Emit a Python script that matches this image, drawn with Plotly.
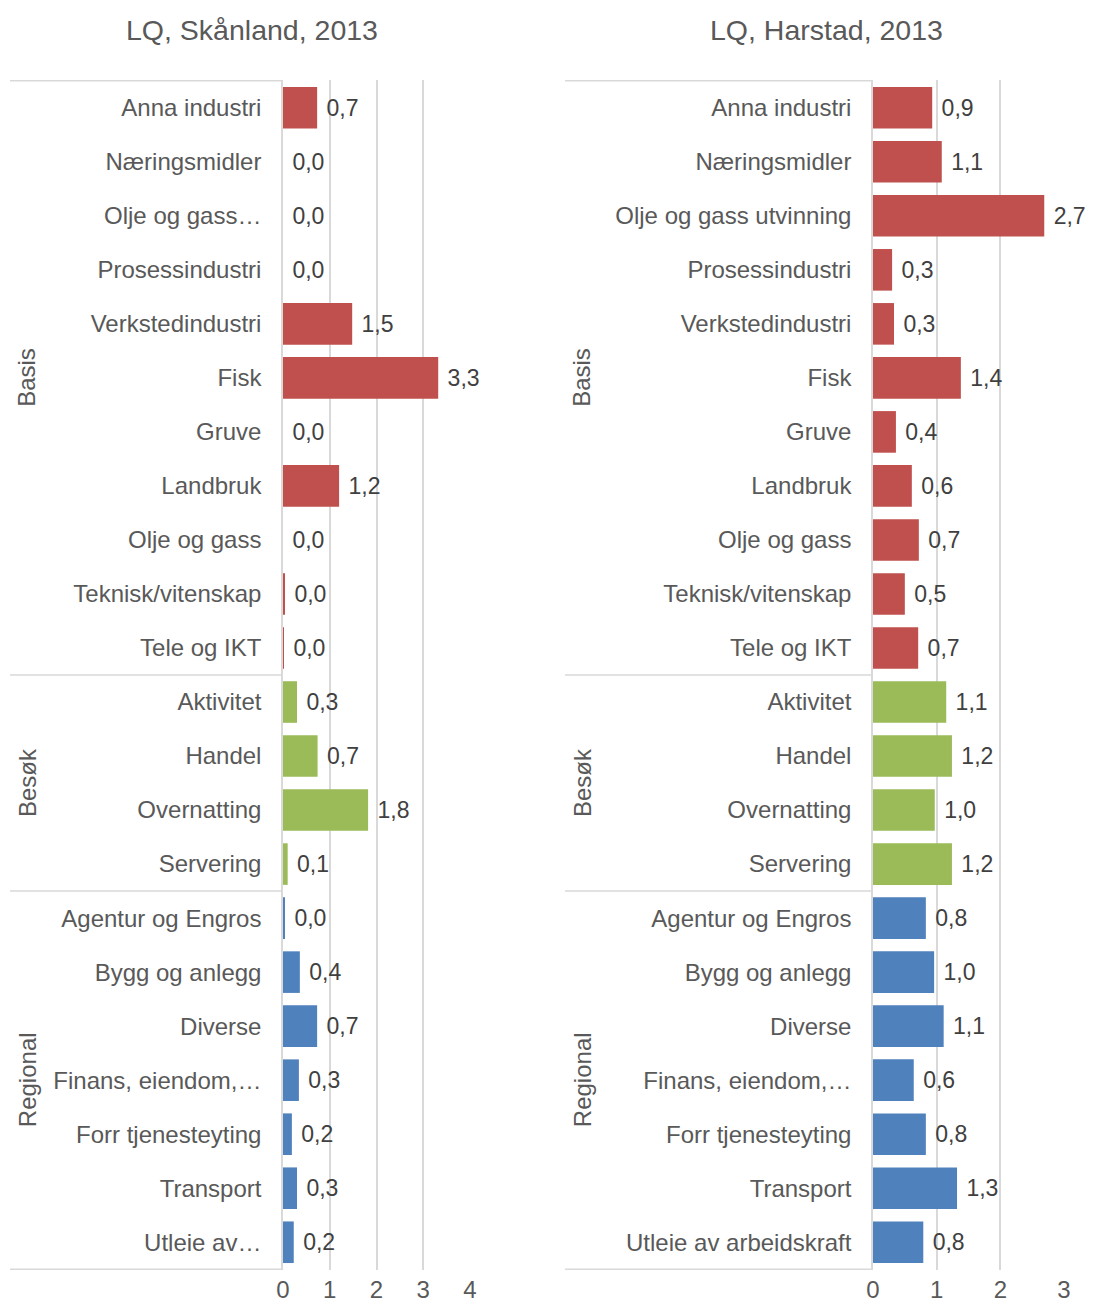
import plotly.graph_objects as go

# category labels (left panel truncates some long names, as in the original)
cats_skanland = ["Anna industri", "Næringsmidler", "Olje og gass…", "Prosessindustri",
                 "Verkstedindustri", "Fisk", "Gruve", "Landbruk", "Olje og gass",
                 "Teknisk/vitenskap", "Tele og IKT",
                 "Aktivitet", "Handel", "Overnatting", "Servering",
                 "Agentur og Engros", "Bygg og anlegg", "Diverse", "Finans, eiendom,…",
                 "Forr tjenesteyting", "Transport", "Utleie av…"]
cats_harstad = ["Anna industri", "Næringsmidler", "Olje og gass utvinning", "Prosessindustri",
                "Verkstedindustri", "Fisk", "Gruve", "Landbruk", "Olje og gass",
                "Teknisk/vitenskap", "Tele og IKT",
                "Aktivitet", "Handel", "Overnatting", "Servering",
                "Agentur og Engros", "Bygg og anlegg", "Diverse", "Finans, eiendom,…",
                "Forr tjenesteyting", "Transport", "Utleie av arbeidskraft"]

lq_skanland = [0.73, 0.0, 0.0, 0.0, 1.48, 3.32, 0.0, 1.2, 0.0, 0.03, 0.02,
               0.3, 0.74, 1.82, 0.1,
               0.04, 0.36, 0.73, 0.34, 0.19, 0.3, 0.23]
lq_harstad = [0.93, 1.08, 2.69, 0.3, 0.33, 1.38, 0.36, 0.61, 0.72, 0.5, 0.71,
              1.15, 1.24, 0.97, 1.24,
              0.83, 0.96, 1.11, 0.64, 0.83, 1.32, 0.79]

groups = ["Basis", "Besøk", "Regional"]
group_sizes = [11, 4, 7]
group_colors = {"Basis": "#C0504D", "Besøk": "#9BBB59", "Regional": "#4F81BD"}

titles = ["LQ, Skånland, 2013", "LQ, Harstad, 2013"]
x_ranges = [[0, 4], [0, 3]]

# the page body has an 8px margin all round; keep the page from scrolling
OFF = 8
W, H = 1093 - OFF, 1311 - 2 * OFF
FONT = "Liberation Sans, Arial, sans-serif"
GRID = "#d9d9d9"


def px(v):
    return v - OFF


fig = go.Figure()

panels = [
    dict(cats=cats_skanland, vals=lq_skanland, xdom=(283, 470), left=10, title_x=252),
    dict(cats=cats_harstad, vals=lq_harstad, xdom=(873, 1064), left=565, title_x=826),
]
y_top, y_bot = 80, 1270

for p_i, p in enumerate(panels):
    xa = "x" if p_i == 0 else "x2"
    ya = "y" if p_i == 0 else "y2"
    start = 0
    for g, n in zip(groups, group_sizes):
        fig.add_trace(go.Bar(
            x=p["vals"][start:start + n], y=p["cats"][start:start + n],
            orientation="h", marker=dict(color=group_colors[g], line=dict(width=0)),
            texttemplate=" %{x:.1f}", textposition="outside", cliponaxis=False,
            constraintext="none",
            textfont=dict(size=23, color="#404040", family=FONT),
            xaxis=xa, yaxis=ya, showlegend=False, hoverinfo="skip",
        ))
        start += n

    xk = "xaxis" if p_i == 0 else "xaxis2"
    yk = "yaxis" if p_i == 0 else "yaxis2"
    fig.update_layout({
        xk: dict(domain=[px(p["xdom"][0]) / W, px(p["xdom"][1]) / W], range=x_ranges[p_i],
                 anchor=ya, showgrid=True, gridcolor=GRID, gridwidth=1.5,
                 zeroline=False, showline=False, dtick=1, automargin=False,
                 ticks="", ticklabelstandoff=3,
                 tickfont=dict(size=24, color="#595959", family=FONT)),
        yk: dict(domain=[1 - px(y_bot) / H, 1 - px(y_top) / H], anchor=xa,
                 type="category", categoryorder="array", categoryarray=p["cats"],
                 autorange="reversed", showgrid=False, zeroline=False,
                 showline=True, linecolor=GRID, linewidth=1.5, automargin=False,
                 ticks="", ticklabelstandoff=15,
                 tickfont=dict(size=24, color="#595959", family=FONT)),
    })

    # group separators
    bounds = [-0.5]
    for n in group_sizes:
        bounds.append(bounds[-1] + n)
    for b in bounds:
        fig.add_shape(type="line", xref="paper", yref=ya,
                      x0=px(p["left"]) / W, x1=px(p["xdom"][0]) / W, y0=b, y1=b,
                      line=dict(color=GRID, width=1.5))
    # group labels
    for g, lo, hi in zip(groups, bounds[:-1], bounds[1:]):
        fig.add_annotation(text=g, xref="paper", yref=ya,
                           x=px(p["left"] + 17) / W, y=(lo + hi) / 2,
                           xanchor="center", yanchor="middle",
                           textangle=-90, showarrow=False,
                           font=dict(size=24, color="#595959", family=FONT))
    fig.add_annotation(text=titles[p_i], xref="paper", yref="paper",
                       x=px(p["title_x"]) / W, y=1 - px(30) / H,
                       xanchor="center", yanchor="middle", showarrow=False,
                       font=dict(size=28.5, color="#595959", family=FONT))

fig.update_layout(
    width=W, height=H, margin=dict(l=0, r=0, t=0, b=0, autoexpand=False),
    paper_bgcolor="white", plot_bgcolor="white",
    bargap=0.23, separators=",.", font=dict(family=FONT),
)

fig.write_html("out.html")
